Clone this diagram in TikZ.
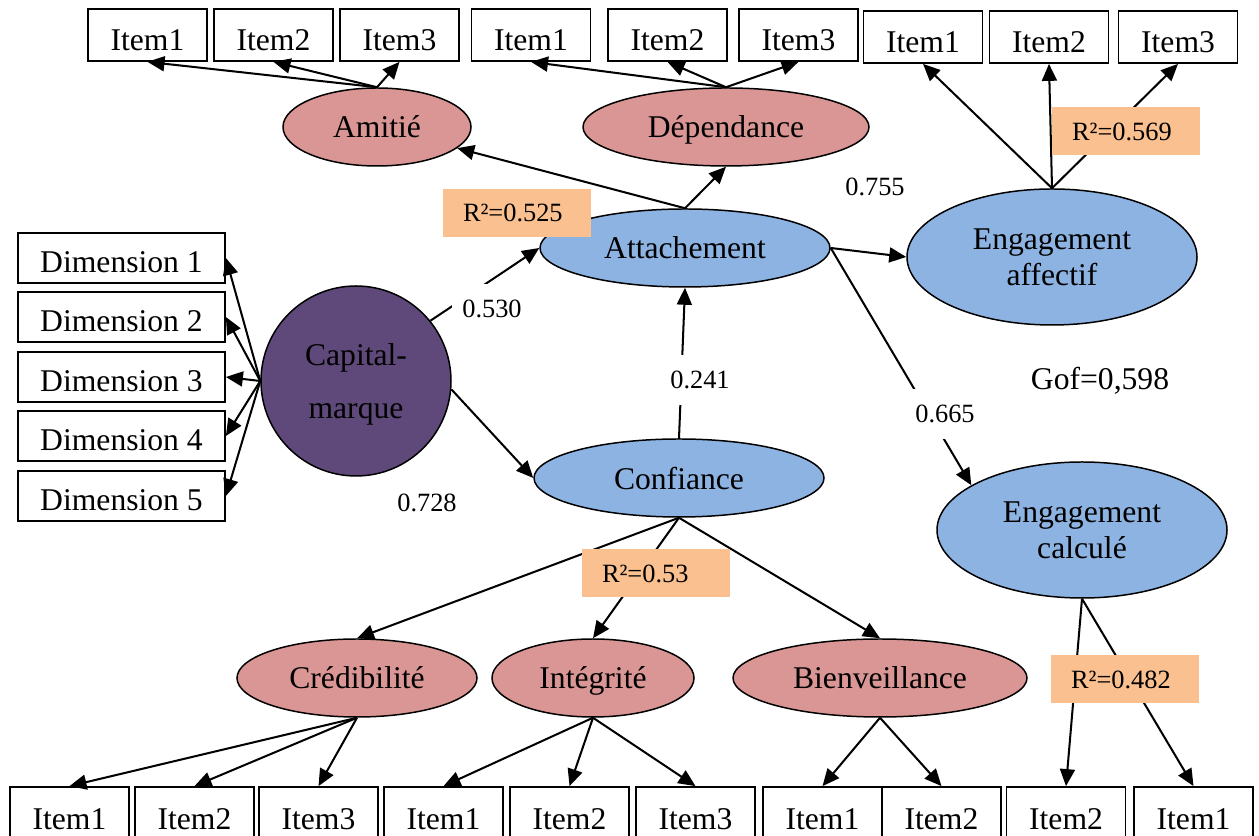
\documentclass[tikz,border=0pt]{standalone}
\usepackage{fontspec}
\setmainfont{Liberation Serif}
\usetikzlibrary{arrows.meta,shapes.geometric}

\definecolor{lvrose}{RGB}{217,150,148}
\definecolor{lvbleu}{RGB}{141,179,226}
\definecolor{lvviolet}{RGB}{95,73,122}
\definecolor{rqpeche}{RGB}{250,192,143}

\begin{document}
\begin{tikzpicture}[
    x=1cm, y=1cm,
    font=\fontsize{18}{20.5}\selectfont,
    lv/.style={ellipse, draw=black, line width=0.85pt, inner sep=0pt, align=center, text depth=0pt},
    it/.style={draw, line width=1pt, minimum width=2.38cm, minimum height=1.04cm, inner sep=0pt,
               text height=0.62cm, text depth=0pt},
    ib/.style={it, minimum height=1.26cm, text height=0.44cm},
    dm/.style={draw, line width=1pt, minimum width=4.14cm, minimum height=1.0cm, inner sep=0pt,
               text height=0.58cm, text depth=0pt},
    ar/.style={-{Triangle[length=3.4mm, width=3mm]}, line width=1.15pt},
    cf/.style={font=\fontsize{15}{17}\selectfont, fill=white, inner xsep=6pt, inner ysep=9pt},
    rq/.style={fill=rqpeche, font=\fontsize{15}{17}\selectfont, minimum height=0.96cm,
               text width=2.16cm, inner xsep=0.4cm, inner ysep=0pt, align=left},
  ]
  \useasboundingbox (0,0) rectangle (25.18,16.72);

  % --- items du haut ---
  \node[it] (am1) at (2.95,16.02) {Item1};
  \node[it] (am2) at (5.47,16.02) {Item2};
  \node[it] (am3) at (7.99,16.02) {Item3};
  \node[it] (dp1) at (10.62,16.02) {Item1};
  \node[it] (dp2) at (13.35,16.02) {Item2};
  \node[it] (dp3) at (15.97,16.02) {Item3};
  \node[it] (ea1) at (18.46,15.98) {Item1};
  \node[it] (ea2) at (20.98,15.98) {Item2};
  \node[it] (ea3) at (23.56,15.98) {Item3};

  % --- variables latentes ---
  \node[lv, fill=lvrose, minimum width=3.76cm, minimum height=1.56cm] (amitie) at (7.54,14.18) {Amitié};
  \node[lv, fill=lvrose, minimum width=5.72cm, minimum height=1.56cm] (dependance) at (14.52,14.18) {Dépendance};
  \node[lv, fill=lvbleu, minimum width=5.80cm, minimum height=1.56cm] (attach) at (13.70,11.76) {Attachement};
  \node[lv, fill=lvbleu, minimum width=5.80cm, minimum height=2.72cm] (engaff) at (21.04,11.58) {Engagement\\affectif};
  \node[circle, draw=black, line width=0.85pt, fill=lvviolet, minimum size=3.80cm, inner sep=0pt,
        align=center, text depth=0pt] (capital) at (7.12,9.10) {Capital-\\[10pt]marque};
  \node[lv, fill=lvbleu, minimum width=5.80cm, minimum height=1.56cm] (confiance) at (13.58,7.16) {Confiance};
  \node[lv, fill=lvbleu, minimum width=5.80cm, minimum height=2.72cm] (engcalc) at (21.64,6.12) {Engagement\\calculé};
  \node[lv, fill=lvrose, minimum width=4.80cm, minimum height=1.56cm] (credib) at (7.14,3.16) {Crédibilité};
  \node[lv, fill=lvrose, minimum width=4.04cm, minimum height=1.56cm] (integr) at (11.86,3.16) {Intégrité};
  \node[lv, fill=lvrose, minimum width=5.88cm, minimum height=1.56cm] (bienv) at (17.60,3.16) {Bienveillance};

  % --- dimensions du capital-marque ---
  \node[dm] (dim1) at (2.43,11.56) {Dimension 1};
  \node[dm] (dim2) at (2.43,10.38) {Dimension 2};
  \node[dm] (dim3) at (2.43,9.18) {Dimension 3};
  \node[dm] (dim4) at (2.43,8.00) {Dimension 4};
  \node[dm] (dim5) at (2.43,6.80) {Dimension 5};

  % --- items du bas ---
  \node[ib] (cr1) at (1.39,0.35) {Item1};
  \node[ib] (cr2) at (3.89,0.35) {Item2};
  \node[ib] (cr3) at (6.37,0.35) {Item3};
  \node[ib] (in1) at (8.87,0.35) {Item1};
  \node[ib] (in2) at (11.39,0.35) {Item2};
  \node[ib] (in3) at (13.91,0.35) {Item3};
  \node[ib] (bv1) at (16.45,0.35) {Item1};
  \node[ib] (bv2) at (18.83,0.35) {Item2};
  \node[ib] (ec2) at (21.32,0.35) {Item2};
  \node[ib] (ec1) at (23.87,0.35) {Item1};

  % --- mesures ---
  \draw[ar] (capital.west) -- (dim1.east);
  \draw[ar] (capital.west) -- (dim2.east);
  \draw[ar] (capital.west) -- (dim3.east);
  \draw[ar] (capital.west) -- (dim4.east);
  \draw[ar] (capital.west) -- (dim5.east);

  \draw[ar] (amitie.north) -- (am1.south);
  \draw[ar] (amitie.north) -- (am2.south);
  \draw[ar] (amitie.north) -- (am3.south);
  \draw[ar] (dependance.north) -- (dp1.south);
  \draw[ar] (dependance.north) -- (dp2.south);
  \draw[ar] (dependance.north) -- (dp3.south);
  \draw[ar] (engaff.north) -- (ea1.south);
  \draw[ar] (engaff.north) -- (ea2.south);
  \draw[ar] (engaff.north) -- (ea3.south);

  \draw[ar] (credib.south) -- (cr1.north);
  \draw[ar] (credib.south) -- (cr2.north);
  \draw[ar] (credib.south) -- (cr3.north);
  \draw[ar] (integr.south) -- (in1.north);
  \draw[ar] (integr.south) -- (in2.north);
  \draw[ar] (integr.south) -- (in3.north);
  \draw[ar] (bienv.south) -- (bv1.north);
  \draw[ar] (bienv.south) -- (bv2.north);
  \draw[ar] (engcalc.south) -- (ec2.north);
  \draw[ar] (engcalc.south) -- (ec1.north);

  % --- relations structurelles ---
  \draw[ar] (capital.39) -- (attach.west);
  \draw[ar] (capital.-5) -- (confiance.west);
  \draw[ar] (confiance.north) -- (attach.south);
  \draw[ar] (attach.north) -- (amitie);
  \draw[ar] (attach.north) -- (dependance.south);
  \draw[ar] (attach.east) -- (engaff.west);
  \draw[ar] (attach.east) -- (engcalc.158);
  \draw[ar] (confiance.south) -- (credib.north);
  \draw[ar] (confiance.south) -- (integr.north);
  \draw[ar] (confiance.south) -- (bienv.north);

  % --- coefficients ---
  \node[cf] (c755) at (17.50,12.98) {0.755};
  \node[cf] (c530) at (9.84,10.54) {0.530};
  \node[cf] (c241) at (14.00,9.12) {0.241};
  \node[cf] (c665) at (18.90,8.44) {0.665};
  \node[cf] (c728) at (8.54,6.66) {0.728};
  \node (gof) at (22.00,9.10) {Gof=0,598};

  % --- R² ---
  \node[rq] (r525) at (10.34,12.46) {R²=0.525};
  \node[rq] (r569) at (22.52,14.09) {R²=0.569};
  \node[rq] (r53)  at (13.12,5.25) {R²=0.53};
  \node[rq] (r482) at (22.50,3.13) {R²=0.482};

\end{tikzpicture}
\end{document}
